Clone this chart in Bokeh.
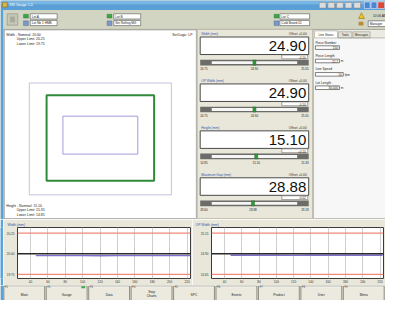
from bokeh.plotting import figure
from bokeh.models import Range1d, FixedTicker, NumeralTickFormatter, Span
from bokeh.layouts import column, row
from bokeh.embed import file_html
from bokeh.resources import INLINE
from bokeh.core.properties import value

# ---------------- data ----------------
window_title = "SSI Gauge 1.0"
lot_top = ["Lot A", "Lot B", "Lot C"]
lot_bottom = ["Lot Nb 1 HMB", "Sin Rolling Mill", "Cold Board 01"]
clock_text = "10:06 AM"
user_text = "Manager"

width_spec = ["Width - Nominal: 20.00", "Upper Limit: 20.25", "Lower Limit: 19.75"]
height_spec = ["Height - Nominal: 15.10", "Upper Limit: 15.35", "Lower Limit: 14.85"]
set_logic = "Set/Logic: LP"

gauge_names = ["Width (mm)", "OP Width (mm)", "Height (mm)", "Maximum Gap (mm)"]
gauge_values = [24.90, 24.90, 15.10, 28.88]
gauge_offsets = [0.00, 0.00, 0.00, 0.00]
gauge_devs = [-0.10, -0.10, 0.10, -0.02]
gauge_lows = [24.75, 24.75, 14.85, 28.60]
gauge_highs = [25.05, 25.05, 15.33, 29.18]

status_tabs = ["Line Status", "Tools", "Messages"]
status_labels = ["Piece Number", "Piece Length", "Line Speed", "Lot Length"]
status_values = ["150", "22.7", "10", "30,000"]
status_units = ["", "m", "fpm", "m"]

trend_ticks = [40, 60, 80, 100, 120, 140, 160, 180, 200, 220]
width_title = "Width (mm)"
width_limits = [19.75, 20.00, 20.25]
width_x = [46, 60, 80, 100, 120, 140, 160, 180, 200, 224]
width_y = [19.977, 19.977, 19.978, 19.977, 19.976, 19.977, 19.977, 19.978, 19.977, 19.977]
opw_title = "OP Width (mm)"
opw_limits = [24.65, 24.90, 25.15]
opw_x = [47, 60, 80, 100, 120, 140, 160, 180, 200, 223]
opw_y = [24.882, 24.882, 24.883, 24.882, 24.881, 24.882, 24.882, 24.883, 24.882, 24.882]

button_keys = ["F1", "F2", "F3", "F4", "F5", "F6", "F7", "F8", "F9"]
button_labels = ["Main", "Gauge", "Data", "Stop\nCharts", "SPC", "Events", "Product", "User", "Menu"]

# ---------------- helpers ----------------
FONT = value("Liberation Sans")
BEIGE = "#e9e7da"
BLUE_EDGE = "#5aa3da"


def mk_fig(w, h, xr, yr, bg):
    return figure(width=w, height=h, x_range=Range1d(*xr), y_range=Range1d(*yr),
                  x_axis_type=None, y_axis_type=None, toolbar_location=None,
                  output_backend="svg", min_border=0, background_fill_color=bg,
                  border_fill_color=bg, outline_line_color=None)


def box(p, l, t, r, b, fill, line=None, lw=1.0):
    p.quad(left=[l], right=[r], top=[t], bottom=[b], fill_color=fill,
           line_color=line, line_width=lw)


def txt(p, x, y, s, size, color="#222222", align="left", bold=False):
    p.text(x=[x], y=[y], text=[s], text_font=FONT, text_font_size=f"{size}px",
           text_color=color, text_align=align, text_baseline="middle",
           text_font_style="bold" if bold else "normal")


def seg(p, x0, y0, x1, y1, color, lw=1.0):
    p.segment(x0=[x0], y0=[y0], x1=[x1], y1=[y1], line_color=color, line_width=lw)


# ---------------- top area ----------------
top = mk_fig(385, 219, (0, 401), (231, 0), "#d3d5c3")

# title bar
box(top, 0, 0, 401, 10, "#5a9fd6")
box(top, 0, 0, 401, 4, "#7ab6e3")
box(top, 2, 2, 7, 7, "#d8b840", "#806020", 0.5)
txt(top, 9, 5, window_title, 3.6, "#ffffff")
for i in range(5):
    box(top, 332 + i * 9, 2, 339 + i * 9, 8, "#dcdcdc", "#808080", 0.5)
box(top, 379, 1.5, 385, 8.5, "#4a86d4", "#ffffff", 0.5)
box(top, 386, 1.5, 392, 8.5, "#4a86d4", "#ffffff", 0.5)
box(top, 393, 1.5, 400, 8.5, "#d9463a", "#ffffff", 0.5)

# window left edge
box(top, 0, 10, 3, 231, BLUE_EDGE)

# toolbar
box(top, 3, 10, 401, 30, "#d3d5c3")
seg(top, 3, 30.5, 401, 30.5, "#a8a898", 0.8)
box(top, 7, 14, 18, 26, "#c4c6b6", "#8e8e80", 0.6)
box(top, 10, 17, 15, 23, "#a8aa9c")
groups = [(24, 31, 59), (111, 118, 146), (285, 291, 322)]
for (gx, bx0, bx1), t1, t2 in zip(groups, lot_top, lot_bottom):
    box(top, gx, 14.5, gx + 5, 18.5, "#3aa645", "#2a6a30", 0.4)
    box(top, gx, 21.5, gx + 5, 26.5, "#7b98c8", "#405a88", 0.4)
    box(top, bx0, 14, bx1, 19.5, "#ffffff", "#555555", 0.6)
    box(top, bx0, 21, bx1, 26.5, "#ffffff", "#555555", 0.6)
    txt(top, bx0 + 1.5, 16.8, t1, 3.2)
    txt(top, bx0 + 1.5, 23.8, t2, 3.2)
top.patch(x=[373, 376, 379], y=[19, 13, 19], fill_color="#f2c81e", line_color="#806000", line_width=0.5)
txt(top, 388, 16, clock_text, 3.2)
box(top, 373, 22.5, 378, 26.5, "#b98a3a")
box(top, 383, 21.5, 401, 27.5, "#ffffff", "#555555", 0.6)
txt(top, 384.5, 24.5, user_text, 3.2)

# left panel
box(top, 4, 31, 204, 230, "#ffffff", "#a0a0a0", 0.8)
for i, s in enumerate(width_spec):
    txt(top, 6 if i == 0 else 17, 36 + 5 * i, s, 3.4)
txt(top, 200, 36, set_logic, 3.4, align="right")
for i, s in enumerate(height_spec):
    txt(top, 6 if i == 0 else 17, 216.5 + 5 * i, s, 3.4)
box(top, 30, 87, 178, 205, None, "#b4b4d4", 0.8)
box(top, 48, 100, 160, 190, None, "#2f8a3a", 2.0)
box(top, 65, 122, 143, 162, None, "#9a8fd8", 0.9)

# middle panel (gauges)
box(top, 205, 30.5, 325, 230, BEIGE, "#b0ae9c", 0.6)
for i in range(4):
    dy = i * 49.5
    v, lo, hi = gauge_values[i], gauge_lows[i], gauge_highs[i]
    txt(top, 209, 35 + dy, gauge_names[i], 3.3, "#3355aa")
    txt(top, 319, 35 + dy, f"Offset {gauge_offsets[i]:+.2f}", 3.3, "#333333", align="right")
    box(top, 208, 38.5 + dy, 321, 57 + dy, "#ffffff", "#4a4a4a", 1.0)
    txt(top, 318.5, 48 + dy, f"{v:.2f}", 15, "#111111", align="right")
    box(top, 293, 57.5 + dy, 320, 61.5 + dy, "#ffffff", "#6a6a6a", 0.6)
    txt(top, 318, 59.6 + dy, f"{gauge_devs[i]:+.2f}", 3.1, align="right")
    box(top, 208, 62.5 + dy, 321, 68.5 + dy, "#6c6c68")
    box(top, 220, 64 + dy, 309, 67 + dy, "#f6f6f6")
    xm = 220 + (v - lo) / (hi - lo) * 89
    box(top, xm - 1.6, 62.8 + dy, xm + 1.6, 68.2 + dy, "#2f9a3a", "#1e5e24", 0.4)
    txt(top, 208, 71.6 + dy, f"{lo:.2f}", 3.0)
    txt(top, xm, 71.6 + dy, f"{v:.2f}", 3.0, align="center")
    txt(top, 321, 71.6 + dy, f"{hi:.2f}", 3.0, align="right")

# right panel (status)
box(top, 326, 31, 401, 230, "#f7f7f7", "#a0a0a0", 0.6)
box(top, 326, 31, 401, 39.5, "#ecebe2")
tab_x = [(327, 351), (352, 366), (367, 385)]
for j, ((a, b), name) in enumerate(zip(tab_x, status_tabs)):
    box(top, a, 32 if j == 0 else 33, b, 39.5, "#ffffff" if j == 0 else "#e4e2d6", "#8a8a80", 0.5)
    txt(top, (a + b) / 2, 36 if j == 0 else 36.5, name, 3.0, align="center")
seg(top, 351, 39.5, 401, 39.5, "#8a8a80", 0.5)
for i, (lab, val, unit) in enumerate(zip(status_labels, status_values, status_units)):
    y0 = 44.3 + 14.1 * i
    txt(top, 328, y0, lab, 3.3)
    bx1 = 357 if unit == "fpm" else 353
    box(top, 328, y0 + 3.5, bx1, y0 + 7.3, "#ffffff", "#4a4a4a", 0.7)
    txt(top, bx1 - 1.5, y0 + 5.4, val, 3.1, align="right")
    if unit:
        txt(top, bx1 + 1.5, y0 + 5.4, unit, 3.1)


# ---------------- trend charts ----------------
def trend(w, title, limits, xs, ys, bl):
    lo, nom, hi = limits
    span = hi - lo
    p = figure(width=w, height=66, x_range=Range1d(25, 224),
               y_range=Range1d(lo - 0.10 * span, hi + 0.137 * span),
               toolbar_location=None, output_backend="svg",
               min_border_left=bl, min_border_right=2, min_border_top=8, min_border_bottom=4,
               background_fill_color="#ffffff", border_fill_color=BEIGE,
               outline_line_color="#3a3a3a", outline_line_width=1, title=title)
    p.title.text_font_size = "3.4px"
    p.title.text_color = "#3355aa"
    p.title.text_font = "Liberation Sans"
    p.title.text_font_style = "normal"
    p.title.standoff = 1
    p.title.offset = -(bl - 3)
    p.xaxis.ticker = FixedTicker(ticks=trend_ticks)
    p.yaxis.ticker = FixedTicker(ticks=limits)
    p.yaxis.formatter = NumeralTickFormatter(format="0.00")
    for ax in (p.xaxis[0], p.yaxis[0]):
        ax.major_label_text_font_size = "3.1px"
        ax.major_label_text_font = "Liberation Sans"
        ax.major_label_text_color = "#333333"
        ax.major_tick_line_color = None
        ax.minor_tick_line_color = None
        ax.major_tick_out = 0
        ax.major_tick_in = 0
        ax.minor_tick_out = 0
        ax.minor_tick_in = 0
        ax.axis_line_color = None
    p.xaxis.major_label_standoff = 1
    p.yaxis.major_label_standoff = 3
    p.xgrid.ticker = FixedTicker(ticks=trend_ticks)
    p.xgrid.grid_line_color = "#cfcfcf"
    p.ygrid.grid_line_color = None
    for loc, col in ((hi, "#f08a78"), (lo, "#f08a78"), (nom, "#2a2a2a")):
        p.add_layout(Span(location=loc, dimension="width", line_color=col, line_width=1.4))
    p.line(xs, ys, line_color="#7f6fd0", line_width=1.4)
    return p


edge = mk_fig(3, 66, (0, 1), (0, 1), BLUE_EDGE)
t_left = trend(189, width_title, width_limits, width_x, width_y, 13)
t_right = trend(193, opw_title, opw_limits, opw_x, opw_y, 19)

# ---------------- button bar ----------------
bar = mk_fig(385, 15, (0, 401), (316, 300), "#dddbcc")
box(bar, 0, 300, 3, 316, BLUE_EDGE)
for i, (k, lab) in enumerate(zip(button_keys, button_labels)):
    x0 = 3.5 + i * 44.2
    x1 = x0 + 42.5
    box(bar, x0, 300.6, x1, 316, "#eceadf", "#6e6e66", 0.7)
    seg(bar, x0 + 0.8, 301.4, x1 - 0.8, 301.4, "#ffffff", 0.6)
    txt(bar, x0 + 1.2, 302.6, k, 2.6, "#333333")
    if lab == "Gauge":
        box(bar, x1 - 6, 300.8, x1 - 2, 303, "#3aa645")
    lines = lab.split("\n")
    if len(lines) == 1:
        txt(bar, (x0 + x1) / 2, 309.5, lab, 3.3, align="center")
    else:
        txt(bar, (x0 + x1) / 2, 306.5, lines[0], 3.3, align="center")
        txt(bar, (x0 + x1) / 2, 311, lines[1], 3.3, align="center")

layout = column(top, row(edge, t_left, t_right), bar)
open("out.html", "w").write(file_html(layout, INLINE))
